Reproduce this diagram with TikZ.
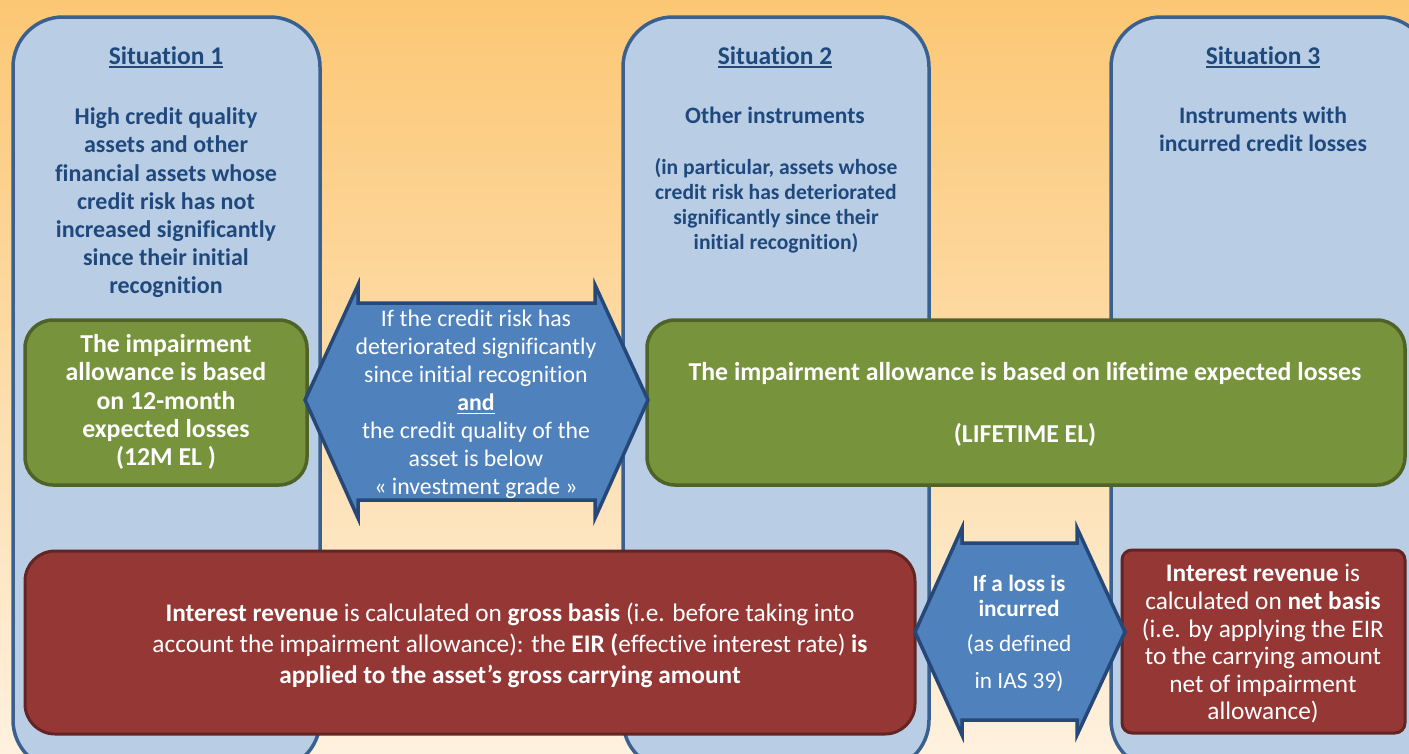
\documentclass[tikz,border=0pt]{standalone}
\usepackage{fontspec}
\setmainfont{Carlito}[Ligatures=NoCommon]
\definecolor{bgtop}{RGB}{252,199,116}
\definecolor{bgbot}{RGB}{254,241,222}
\definecolor{colfill}{RGB}{185,205,229}
\definecolor{coldraw}{RGB}{58,96,143}
\definecolor{grfill}{RGB}{119,147,60}
\definecolor{grdraw}{RGB}{79,98,40}
\definecolor{blfill}{RGB}{79,129,189}
\definecolor{bldraw}{RGB}{37,72,120}
\definecolor{rdfill}{RGB}{149,55,53}
\definecolor{rddraw}{RGB}{99,37,35}
\definecolor{headtxt}{RGB}{31,73,125}
\newcommand{\ulx}[1]{\leavevmode\vtop{\hbox{#1}\kern2.2pt\hrule height 1.8pt}}
\tikzset{
  column/.style={fill=colfill,draw=coldraw,line width=3.5pt,rounded corners=50pt},
  greenbox/.style={fill=grfill,draw=grdraw,line width=3.5pt,rounded corners=28pt},
  redbox/.style={fill=rdfill,draw=rddraw,line width=3pt,rounded corners=30pt},
  bluearrow/.style={fill=blfill,draw=bldraw,line width=3.5pt,line join=miter},
  headtext/.style={text=headtxt,font=\bfseries\fontsize{24}{28.2}\selectfont,align=center,inner sep=0pt},
  whitetext/.style={text=white,align=center,inner sep=0pt},
}
\begin{document}
\begin{tikzpicture}[x=1pt,y=-1pt]
\useasboundingbox (0,0) rectangle (1409,753);
\shade[top color=bgtop,bottom color=bgbot] (0,0) rectangle (1409,753);
% columns
\draw[column] (13,17) rectangle (320,770);
\draw[column] (623,17) rectangle (929,770);
\draw[column] (1111,17) rectangle (1430,770);
% column texts
\node[headtext,font=\bfseries\fontsize{25.5}{28}\selectfont,anchor=base] (h1) at (166,64) {\ulx{Situation 1}};
\node[headtext,font=\bfseries\fontsize{25.5}{28}\selectfont,anchor=base] (h2) at (775,64) {\ulx{Situation 2}};
\node[headtext,font=\bfseries\fontsize{25.5}{28}\selectfont,anchor=base] (h3) at (1263,64) {\ulx{Situation 3}};
\node[headtext] (t1) at (166,203) {High credit quality\\assets and other\\financial assets whose\\credit risk has not\\increased significantly\\since their initial\\recognition};
\node[headtext,font=\bfseries\fontsize{23.5}{28}\selectfont] (t2a) at (775,115) {Other instruments};
\node[headtext,font=\bfseries\fontsize{21.6}{25}\selectfont] (t2b) at (776,206) {(in particular, assets whose\\credit risk has deteriorated\\significantly since their\\initial recognition)};
\node[headtext,font=\bfseries\fontsize{23.6}{28}\selectfont] (t3) at (1263,129) {Instruments with\\incurred credit losses};
% green boxes
\draw[greenbox] (25,320) rectangle (307,485);
\draw[greenbox] (647,320) rectangle (1405,485);
\node[whitetext,font=\bfseries\fontsize{25.8}{28.3}\selectfont] (g1) at (166,402) {The impairment\\allowance is based\\on 12-month\\expected losses\\(12M EL )};
\node[whitetext,font=\bfseries\fontsize{25.8}{28}\selectfont] (g2a) at (1025,373) {The impairment allowance is based on lifetime expected losses};
\node[whitetext,font=\bfseries\fontsize{25.8}{28}\selectfont] (g2b) at (1025,435) {(LIFETIME EL)};
% blue arrow 1
\draw[bluearrow] (305,400) -- (358,285) -- (358,303) -- (595,303) -- (595,285) -- (648,400)
  -- (595,518) -- (595,500) -- (358,500) -- (358,518) -- cycle;
\node[whitetext,font=\fontsize{23.8}{28}\selectfont] (b1) at (476,404) {If the credit risk has\\deteriorated significantly\\since initial recognition\\\textbf{\ulx{and}}\\the credit quality of the\\asset is below\\« investment grade »};
% red boxes
\draw[redbox] (25,551) rectangle (915,734);
\draw[redbox,rounded corners=10pt] (1122,550) rectangle (1405,733);
\node[whitetext,font=\fontsize{25.3}{31}\selectfont] (r1) at (510,645) {\textbf{Interest revenue} is calculated on \textbf{gross basis} (i.e. before taking into\\account the impairment allowance): the \textbf{EIR (}effective interest rate) \textbf{is}\\\textbf{applied to the asset’s gross carrying amount}};
\node[whitetext,font=\fontsize{25.3}{27.6}\selectfont] (r2) at (1263,644) {\textbf{Interest revenue} is\\calculated on \textbf{net basis}\\(i.e. by applying the EIR\\to the carrying amount\\net of impairment\\allowance)};
% blue arrow 2
\draw[bluearrow] (915,632) -- (962,528) -- (962,543) -- (1077,543) -- (1077,528) -- (1125,632)
  -- (1077,735) -- (1077,720) -- (962,720) -- (962,735) -- cycle;
\node[whitetext,font=\bfseries\fontsize{23.3}{24.5}\selectfont] (b2a) at (1019,596) {If a loss is\\incurred};
\node[whitetext,font=\fontsize{23.3}{37}\selectfont] (b2b) at (1019,663) {(as defined\\in IAS 39)};
\end{tikzpicture}
\end{document}
